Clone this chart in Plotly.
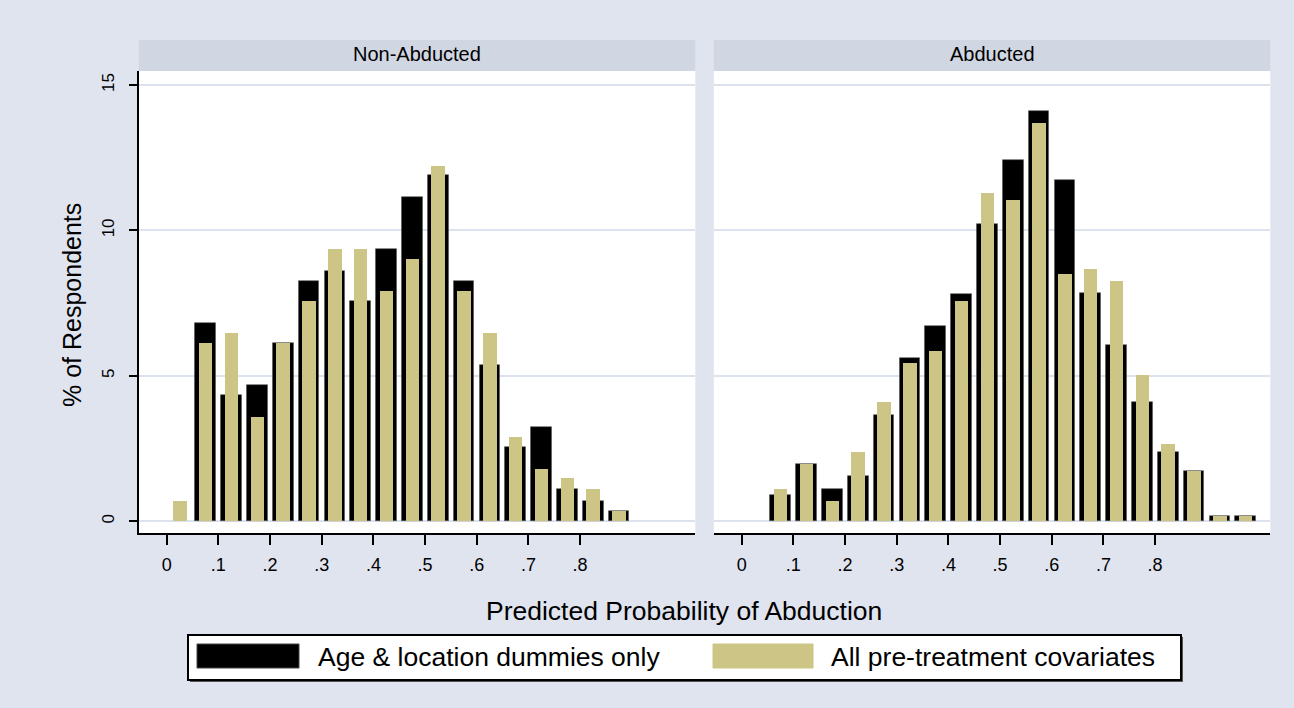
import plotly.graph_objects as go

# ---------------- data ----------------
bin_centers = [0.025, 0.075, 0.125, 0.175, 0.225, 0.275, 0.325, 0.375, 0.425, 0.475,
               0.525, 0.575, 0.625, 0.675, 0.725, 0.775, 0.825, 0.875, 0.925, 0.975]

nonabd_age_loc = [None, 6.81, 4.34, 4.69, 6.12, 8.26, 8.59, 7.57, 9.35, 11.14,
                  11.89, 8.26, 5.39, 2.57, 3.25, 1.12, 0.71, 0.37, None, None]
nonabd_all_cov = [0.71, 6.12, 6.46, 3.58, 6.12, 7.57, 9.35, 9.35, 7.92, 9.01,
                  12.23, 7.92, 6.46, 2.91, 1.81, 1.48, 1.12, 0.37, None, None]

abd_age_loc = [None, 0.89, 1.97, 1.12, 1.56, 3.67, 5.63, 6.71, 7.81, 10.21,
               12.42, 14.11, 11.73, 7.84, 6.06, 4.11, 2.39, 1.73, 0.18, 0.18]
abd_all_cov = [None, 1.12, 1.97, 0.70, 2.39, 4.09, 5.45, 5.87, 7.57, 11.30,
               11.05, 13.68, 8.49, 8.66, 8.26, 5.02, 2.66, 1.73, 0.18, 0.18]

panel_titles = ["Non-Abducted", "Abducted"]
series_names = ["Age & location dummies only", "All pre-treatment covariates"]
x_tick_vals = [0, 0.1, 0.2, 0.3, 0.4, 0.5, 0.6, 0.7, 0.8]
x_tick_text = ["0", ".1", ".2", ".3", ".4", ".5", ".6", ".7", ".8"]
y_tick_vals = [0, 5, 10, 15]
y_tick_text = ["0", "5", "10", "15"]

# ---------------- style ----------------
W, H = 1294, 708
BG = "#DFE4EF"
STRIP = "#D0D7E3"
GRID = "#DCE2EE"
TAN = "#CDC586"
FONT = "Liberation Sans, Arial, sans-serif"


def px_x(p):
    return p / W


def px_y(p):
    return 1 - p / H


fig = go.Figure()

panels = [(nonabd_age_loc, nonabd_all_cov, "x", "y"),
          (abd_age_loc, abd_all_cov, "x2", "y2")]
for black_vals, tan_vals, xa, ya in panels:
    fig.add_trace(go.Bar(x=bin_centers, y=black_vals, width=0.04,
                         marker=dict(color="black", line=dict(color="#555555", width=0.6)),
                         name=series_names[0], showlegend=False, xaxis=xa, yaxis=ya))
    fig.add_trace(go.Bar(x=bin_centers, y=tan_vals, width=0.026,
                         marker=dict(color=TAN, line=dict(width=0)),
                         name=series_names[1], showlegend=False, xaxis=xa, yaxis=ya))

x_range = [-0.054, 1.023]
y_range = [-0.40, 15.48]
dom1 = [px_x(138.8), px_x(695.3)]
dom2 = [px_x(713.8), px_x(1270.3)]
ydom = [px_y(533), px_y(71)]

xaxis_common = dict(range=x_range, tickvals=x_tick_vals, ticktext=x_tick_text,
                    showgrid=False, zeroline=False, showline=True, linecolor="black",
                    linewidth=2, ticks="outside", ticklen=10, tickwidth=2, tickcolor="black",
                    tickfont=dict(family=FONT, size=18, color="black"),
                    ticklabelstandoff=4, fixedrange=True)

fig.update_layout(
    width=W, height=H,
    margin=dict(l=0, r=0, t=0, b=0),
    paper_bgcolor=BG, plot_bgcolor="white",
    barmode="overlay", bargap=0,
    font=dict(family=FONT, color="black"),
    xaxis=dict(xaxis_common, domain=dom1, anchor="y"),
    xaxis2=dict(xaxis_common, domain=dom2, anchor="y2"),
    yaxis=dict(domain=ydom, range=y_range, tickvals=y_tick_vals, ticktext=y_tick_text,
               tickangle=-90, showgrid=True, gridcolor=GRID, gridwidth=1.5,
               zeroline=False, showline=True, linecolor="black", linewidth=2,
               ticks="outside", ticklen=8, tickwidth=2, tickcolor="black",
               tickfont=dict(family=FONT, size=17, color="black"),
               ticklabelstandoff=8, anchor="x", fixedrange=True),
    yaxis2=dict(domain=ydom, range=y_range, tickvals=y_tick_vals, showticklabels=False,
                showgrid=True, gridcolor=GRID, gridwidth=1.5, zeroline=False,
                showline=False, ticks="", anchor="x2", matches="y", fixedrange=True),
    showlegend=False,
)

shapes = []
annotations = []
# strips
for dom, title in zip([dom1, dom2], panel_titles):
    shapes.append(dict(type="rect", xref="paper", yref="paper",
                       x0=dom[0], x1=dom[1], y0=px_y(71), y1=px_y(40),
                       fillcolor=STRIP, line=dict(width=0), layer="below"))
    annotations.append(dict(text=title, xref="paper", yref="paper",
                            x=(dom[0] + dom[1]) / 2, y=px_y(54), showarrow=False,
                            xanchor="center", yanchor="middle",
                            font=dict(family=FONT, size=20, color="black")))

# axis titles
annotations.append(dict(text="% of Respondents", xref="paper", yref="paper",
                        x=px_x(72), y=px_y(305), textangle=-90, showarrow=False,
                        xanchor="center", yanchor="middle",
                        font=dict(family=FONT, size=25, color="black")))
annotations.append(dict(text="Predicted Probability of Abduction", xref="paper", yref="paper",
                        x=px_x(684), y=px_y(611), showarrow=False,
                        xanchor="center", yanchor="middle",
                        font=dict(family=FONT, size=26.5, color="black")))

# legend box (shadow + box)
shapes.append(dict(type="rect", xref="paper", yref="paper",
                   x0=px_x(190), x1=px_x(1183), y0=px_y(682), y1=px_y(637),
                   fillcolor="#555555", line=dict(width=0)))
shapes.append(dict(type="rect", xref="paper", yref="paper",
                   x0=px_x(188), x1=px_x(1181), y0=px_y(680), y1=px_y(635),
                   fillcolor="white", line=dict(color="black", width=2)))
legend_items = [(series_names[0], "black", 197, 299, 316),
                (series_names[1], TAN, 713, 813, 829)]
for name, col, sx0, sx1, tx in legend_items:
    shapes.append(dict(type="rect", xref="paper", yref="paper",
                       x0=px_x(sx0), x1=px_x(sx1), y0=px_y(668), y1=px_y(644),
                       fillcolor=col, line=dict(color="#444444" if col == "black" else col, width=1)))
    annotations.append(dict(text=name, xref="paper", yref="paper",
                            x=px_x(tx), y=px_y(657), showarrow=False,
                            xanchor="left", yanchor="middle",
                            font=dict(family=FONT, size=26.5, color="black")))

fig.update_layout(shapes=shapes, annotations=annotations)

fig.write_html("out.html", config={"displayModeBar": False},
               post_script="document.body.style.margin='0px';")
